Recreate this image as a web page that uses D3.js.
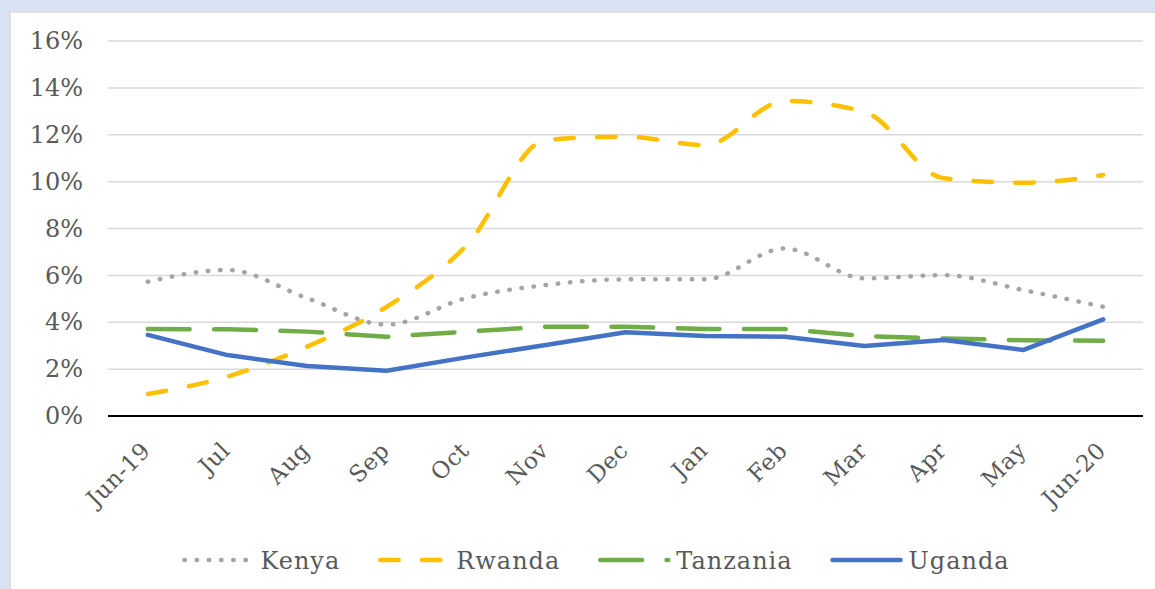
<!DOCTYPE html>
<html><head><meta charset="utf-8">
<script src="https://cdn.jsdelivr.net/npm/d3@7"></script>
<style>body{margin:0;background:#dae3f3;} svg{display:block;font-family:"DejaVu Serif",serif;}</style>
</head><body><svg id="c" width="1155" height="589"></svg>
<script>
const categories = ["Jun-19","Jul","Aug","Sep","Oct","Nov","Dec","Jan","Feb","Mar","Apr","May","Jun-20"];
const kenya    = [5.73,6.23,5.03,3.90,5.03,5.59,5.83,5.83,7.15,5.87,6.01,5.37,4.66];
const rwanda   = [0.94,1.68,2.96,4.66,7.27,11.77,11.92,11.56,13.44,12.98,10.14,9.95,10.28];
const tanzania = [3.71,3.70,3.60,3.38,3.60,3.81,3.81,3.71,3.71,3.41,3.31,3.23,3.21];
const uganda   = [3.46,2.60,2.13,1.93,2.50,3.03,3.57,3.41,3.38,2.99,3.24,2.82,4.12];
const seriesNames = ["Kenya","Rwanda","Tanzania","Uganda"];
const yTicks = [0,2,4,6,8,10,12,14,16];

const svg = d3.select("#c");
svg.append("rect").attr("x",10).attr("y",12).attr("width",1200).attr("height",640)
  .attr("fill","#fff").attr("stroke","#d9d9d9").attr("stroke-width",1.5);

const x = d3.scalePoint().domain(categories).range([108,1143]).padding(0.5);
const y = d3.scaleLinear().domain([0,16]).range([416,41]);

// gridlines
svg.append("g").selectAll("line").data(yTicks.filter(d=>d>0)).join("line")
  .attr("x1",108).attr("x2",1143).attr("y1",d=>y(d)).attr("y2",d=>y(d))
  .attr("stroke","#d9d9d9").attr("stroke-width",1.5);

// y labels
const yAxis = d3.axisLeft(y).tickValues(yTicks).tickFormat(d=>d+"%").tickSize(0).tickPadding(0);
const ga = svg.append("g").attr("transform","translate(83,0)").call(yAxis);
ga.select(".domain").remove();
ga.selectAll("text").attr("font-family","DejaVu Serif").attr("font-size",24).attr("fill","#595959");

// x axis line
svg.append("line").attr("x1",108).attr("x2",1143).attr("y1",y(0)).attr("y2",y(0))
  .attr("stroke","#000").attr("stroke-width",2);

// x labels
const xAxis = d3.axisBottom(x).tickSize(0).tickPadding(0);
const gx = svg.append("g").call(xAxis);
gx.select(".domain").remove();
gx.selectAll(".tick").attr("transform",d=>`translate(${x(d)+4},452)`);
gx.selectAll("text").attr("font-family","DejaVu Serif").attr("font-size",23).attr("letter-spacing",0.5)
  .attr("fill","#595959")
  .attr("text-anchor","end").attr("y",0).attr("dy",0).attr("transform","rotate(-45)");

const styles = {
  Kenya:{data:kenya,color:"#a5a5a5",dash:"0.5 11.7",smooth:true},
  Rwanda:{data:rwanda,color:"#ffc000",dash:"18.5 23.2",smooth:true},
  Tanzania:{data:tanzania,color:"#70ad47",dash:"41.8 24.5",smooth:false},
  Uganda:{data:uganda,color:"#4472c4",dash:null,smooth:false}
};
seriesNames.forEach(n=>{
  const s = styles[n];
  const line = d3.line().x((d,i)=>x(categories[i])).y(d=>y(d))
    .curve(s.smooth? d3.curveMonotoneX: d3.curveLinear);
  svg.append("path").attr("d",line(s.data)).attr("fill","none").attr("stroke",s.color)
    .attr("stroke-width",4.5).attr("stroke-linecap","round").attr("stroke-linejoin","round")
    .attr("stroke-dasharray",s.dash);
});

// legend
const lg = svg.append("g");
const sampleLen = 68, textOff = 78, itemGap = 38, ly = 560;
let items = seriesNames.map(n=>{
  const t = lg.append("text").text(n).attr("font-family","DejaVu Serif").attr("font-size",24)
    .attr("letter-spacing",1).attr("fill","#595959");
  return {n, t, w: t.node().getComputedTextLength()};
});
const total = d3.sum(items,d=>textOff+d.w) + itemGap*(items.length-1);
let cx = 596 - total/2;
items.forEach(it=>{
  const s = styles[it.n];
  lg.append("line").attr("x1",cx+2).attr("x2",cx+2+sampleLen).attr("y1",ly).attr("y2",ly)
    .attr("stroke",s.color).attr("stroke-width",4.5).attr("stroke-linecap","round")
    .attr("stroke-dasharray",s.dash);
  it.t.attr("x",cx+textOff).attr("y",ly+9);
  cx += textOff+it.w+itemGap;
});
</script></body></html>
